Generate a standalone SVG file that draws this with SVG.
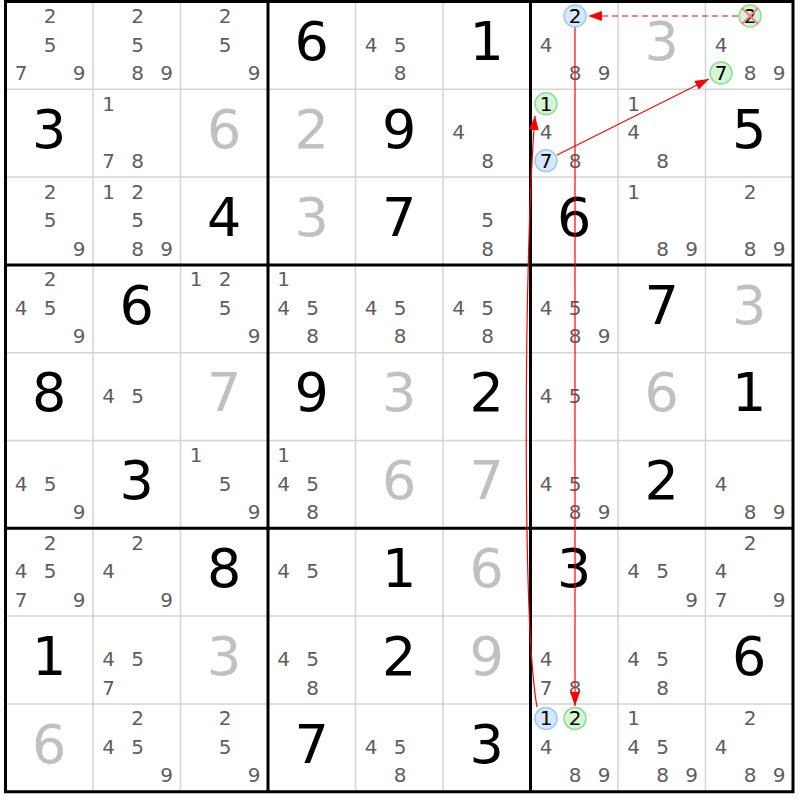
<svg xmlns="http://www.w3.org/2000/svg" width="800" height="800" viewBox="0 0 800 800">
<style>
.c{font-family:"DejaVu Sans","Liberation Sans",sans-serif;font-size:20px;fill:#5e5e5e;text-anchor:middle}
.k{fill:#000}
.b{font-family:"DejaVu Sans","Liberation Sans",sans-serif;font-size:54px;fill:#000;text-anchor:middle}
.g{fill:#c0c0c0}
.thin{stroke:#d4d4d4;stroke-width:1.5}
.thick{stroke:#000;stroke-width:3}
.cb{fill:#d6e8fb;stroke:#9ccaf2;stroke-width:1.5}
.cg{fill:#d6f5d6;stroke:#8edc8e;stroke-width:1.5}
.ln{fill:none;stroke:#f00;stroke-width:1.2}
</style>
<defs>
<marker id="ah" viewBox="0 0 14 10" refX="14" refY="5" markerWidth="14" markerHeight="10" markerUnits="userSpaceOnUse" orient="auto"><path d="M0,0 L14,5 L0,10 z" fill="#f00"/></marker>
</defs>
<rect x="0" y="0" width="800" height="800" fill="#fff"/>
<g id="grid">
<path class="thin" d="M93,1.5V791.7M180.5,1.5V791.7M355.5,1.5V791.7M443,1.5V791.7M618,1.5V791.7M705.5,1.5V791.7M5.5,89.3H793M5.5,177.1H793M5.5,352.7H793M5.5,440.5H793M5.5,616.1H793M5.5,703.9H793"/>
<path class="thick" d="M5.5,0V793M268,1.5V791.7M530.5,1.5V791.7M793,0V793M4,1.5H794.5M5.5,264.9H793M5.5,528.3H793M4,791.7H794.5"/>
</g>
<g id="r1c1"><text class="c" x="50" y="23">2</text><text class="c" x="50" y="51.5">5</text><text class="c" x="21" y="80">7</text><text class="c" x="79" y="80">9</text></g>
<g id="r1c2"><text class="c" x="137.5" y="23">2</text><text class="c" x="137.5" y="51.5">5</text><text class="c" x="137.5" y="80">8</text><text class="c" x="166.5" y="80">9</text></g>
<g id="r1c3"><text class="c" x="225" y="23">2</text><text class="c" x="225" y="51.5">5</text><text class="c" x="254" y="80">9</text></g>
<g id="r1c4"><text class="b" x="311.75" y="60.2">6</text></g>
<g id="r1c5"><text class="c" x="371" y="51.5">4</text><text class="c" x="400" y="51.5">5</text><text class="c" x="400" y="80">8</text></g>
<g id="r1c6"><text class="b" x="486.75" y="60.2">1</text></g>
<g id="r1c7"><circle class="cb" cx="575" cy="16" r="11"/><text class="c k" x="575" y="23">2</text><text class="c" x="546" y="51.5">4</text><text class="c" x="575" y="80">8</text><text class="c" x="604" y="80">9</text></g>
<g id="r1c8"><text class="b g" x="661.75" y="60.2">3</text></g>
<g id="r1c9"><circle class="cg" cx="750" cy="16" r="11"/><text class="c k" x="750" y="23">2</text><path d="M742,8 L758,24 M758,8 L742,24" stroke="#ff7a7a" stroke-width="2"/><text class="c" x="721" y="51.5">4</text><circle class="cg" cx="721" cy="73" r="11"/><text class="c k" x="721" y="80">7</text><text class="c" x="750" y="80">8</text><text class="c" x="779" y="80">9</text></g>
<g id="r2c1"><text class="b" x="49.25" y="148">3</text></g>
<g id="r2c2"><text class="c" x="108.5" y="110.8">1</text><text class="c" x="108.5" y="167.8">7</text><text class="c" x="137.5" y="167.8">8</text></g>
<g id="r2c3"><text class="b g" x="224.25" y="148">6</text></g>
<g id="r2c4"><text class="b g" x="311.75" y="148">2</text></g>
<g id="r2c5"><text class="b" x="399.25" y="148">9</text></g>
<g id="r2c6"><text class="c" x="458.5" y="139.3">4</text><text class="c" x="487.5" y="167.8">8</text></g>
<g id="r2c7"><circle class="cg" cx="546" cy="103.8" r="11"/><text class="c k" x="546" y="110.8">1</text><text class="c" x="546" y="139.3">4</text><circle class="cb" cx="546" cy="160.8" r="11"/><text class="c k" x="546" y="167.8">7</text><text class="c" x="575" y="167.8">8</text></g>
<g id="r2c8"><text class="c" x="633.5" y="110.8">1</text><text class="c" x="633.5" y="139.3">4</text><text class="c" x="662.5" y="167.8">8</text></g>
<g id="r2c9"><text class="b" x="749.25" y="148">5</text></g>
<g id="r3c1"><text class="c" x="50" y="198.6">2</text><text class="c" x="50" y="227.1">5</text><text class="c" x="79" y="255.6">9</text></g>
<g id="r3c2"><text class="c" x="108.5" y="198.6">1</text><text class="c" x="137.5" y="198.6">2</text><text class="c" x="137.5" y="227.1">5</text><text class="c" x="137.5" y="255.6">8</text><text class="c" x="166.5" y="255.6">9</text></g>
<g id="r3c3"><text class="b" x="224.25" y="235.8">4</text></g>
<g id="r3c4"><text class="b g" x="311.75" y="235.8">3</text></g>
<g id="r3c5"><text class="b" x="399.25" y="235.8">7</text></g>
<g id="r3c6"><text class="c" x="487.5" y="227.1">5</text><text class="c" x="487.5" y="255.6">8</text></g>
<g id="r3c7"><text class="b" x="574.25" y="235.8">6</text></g>
<g id="r3c8"><text class="c" x="633.5" y="198.6">1</text><text class="c" x="662.5" y="255.6">8</text><text class="c" x="691.5" y="255.6">9</text></g>
<g id="r3c9"><text class="c" x="750" y="198.6">2</text><text class="c" x="750" y="255.6">8</text><text class="c" x="779" y="255.6">9</text></g>
<g id="r4c1"><text class="c" x="50" y="286.4">2</text><text class="c" x="21" y="314.9">4</text><text class="c" x="50" y="314.9">5</text><text class="c" x="79" y="343.4">9</text></g>
<g id="r4c2"><text class="b" x="136.75" y="323.6">6</text></g>
<g id="r4c3"><text class="c" x="196" y="286.4">1</text><text class="c" x="225" y="286.4">2</text><text class="c" x="225" y="314.9">5</text><text class="c" x="254" y="343.4">9</text></g>
<g id="r4c4"><text class="c" x="283.5" y="286.4">1</text><text class="c" x="283.5" y="314.9">4</text><text class="c" x="312.5" y="314.9">5</text><text class="c" x="312.5" y="343.4">8</text></g>
<g id="r4c5"><text class="c" x="371" y="314.9">4</text><text class="c" x="400" y="314.9">5</text><text class="c" x="400" y="343.4">8</text></g>
<g id="r4c6"><text class="c" x="458.5" y="314.9">4</text><text class="c" x="487.5" y="314.9">5</text><text class="c" x="487.5" y="343.4">8</text></g>
<g id="r4c7"><text class="c" x="546" y="314.9">4</text><text class="c" x="575" y="314.9">5</text><text class="c" x="575" y="343.4">8</text><text class="c" x="604" y="343.4">9</text></g>
<g id="r4c8"><text class="b" x="661.75" y="323.6">7</text></g>
<g id="r4c9"><text class="b g" x="749.25" y="323.6">3</text></g>
<g id="r5c1"><text class="b" x="49.25" y="411.4">8</text></g>
<g id="r5c2"><text class="c" x="108.5" y="402.7">4</text><text class="c" x="137.5" y="402.7">5</text></g>
<g id="r5c3"><text class="b g" x="224.25" y="411.4">7</text></g>
<g id="r5c4"><text class="b" x="311.75" y="411.4">9</text></g>
<g id="r5c5"><text class="b g" x="399.25" y="411.4">3</text></g>
<g id="r5c6"><text class="b" x="486.75" y="411.4">2</text></g>
<g id="r5c7"><text class="c" x="546" y="402.7">4</text><text class="c" x="575" y="402.7">5</text></g>
<g id="r5c8"><text class="b g" x="661.75" y="411.4">6</text></g>
<g id="r5c9"><text class="b" x="749.25" y="411.4">1</text></g>
<g id="r6c1"><text class="c" x="21" y="490.5">4</text><text class="c" x="50" y="490.5">5</text><text class="c" x="79" y="519">9</text></g>
<g id="r6c2"><text class="b" x="136.75" y="499.2">3</text></g>
<g id="r6c3"><text class="c" x="196" y="462">1</text><text class="c" x="225" y="490.5">5</text><text class="c" x="254" y="519">9</text></g>
<g id="r6c4"><text class="c" x="283.5" y="462">1</text><text class="c" x="283.5" y="490.5">4</text><text class="c" x="312.5" y="490.5">5</text><text class="c" x="312.5" y="519">8</text></g>
<g id="r6c5"><text class="b g" x="399.25" y="499.2">6</text></g>
<g id="r6c6"><text class="b g" x="486.75" y="499.2">7</text></g>
<g id="r6c7"><text class="c" x="546" y="490.5">4</text><text class="c" x="575" y="490.5">5</text><text class="c" x="575" y="519">8</text><text class="c" x="604" y="519">9</text></g>
<g id="r6c8"><text class="b" x="661.75" y="499.2">2</text></g>
<g id="r6c9"><text class="c" x="721" y="490.5">4</text><text class="c" x="750" y="519">8</text><text class="c" x="779" y="519">9</text></g>
<g id="r7c1"><text class="c" x="50" y="549.8">2</text><text class="c" x="21" y="578.3">4</text><text class="c" x="50" y="578.3">5</text><text class="c" x="21" y="606.8">7</text><text class="c" x="79" y="606.8">9</text></g>
<g id="r7c2"><text class="c" x="137.5" y="549.8">2</text><text class="c" x="108.5" y="578.3">4</text><text class="c" x="166.5" y="606.8">9</text></g>
<g id="r7c3"><text class="b" x="224.25" y="587">8</text></g>
<g id="r7c4"><text class="c" x="283.5" y="578.3">4</text><text class="c" x="312.5" y="578.3">5</text></g>
<g id="r7c5"><text class="b" x="399.25" y="587">1</text></g>
<g id="r7c6"><text class="b g" x="486.75" y="587">6</text></g>
<g id="r7c7"><text class="b" x="574.25" y="587">3</text></g>
<g id="r7c8"><text class="c" x="633.5" y="578.3">4</text><text class="c" x="662.5" y="578.3">5</text><text class="c" x="691.5" y="606.8">9</text></g>
<g id="r7c9"><text class="c" x="750" y="549.8">2</text><text class="c" x="721" y="578.3">4</text><text class="c" x="721" y="606.8">7</text><text class="c" x="779" y="606.8">9</text></g>
<g id="r8c1"><text class="b" x="49.25" y="674.8">1</text></g>
<g id="r8c2"><text class="c" x="108.5" y="666.1">4</text><text class="c" x="137.5" y="666.1">5</text><text class="c" x="108.5" y="694.6">7</text></g>
<g id="r8c3"><text class="b g" x="224.25" y="674.8">3</text></g>
<g id="r8c4"><text class="c" x="283.5" y="666.1">4</text><text class="c" x="312.5" y="666.1">5</text><text class="c" x="312.5" y="694.6">8</text></g>
<g id="r8c5"><text class="b" x="399.25" y="674.8">2</text></g>
<g id="r8c6"><text class="b g" x="486.75" y="674.8">9</text></g>
<g id="r8c7"><text class="c" x="546" y="666.1">4</text><text class="c" x="546" y="694.6">7</text><text class="c" x="575" y="694.6">8</text></g>
<g id="r8c8"><text class="c" x="633.5" y="666.1">4</text><text class="c" x="662.5" y="666.1">5</text><text class="c" x="662.5" y="694.6">8</text></g>
<g id="r8c9"><text class="b" x="749.25" y="674.8">6</text></g>
<g id="r9c1"><text class="b g" x="49.25" y="762.6">6</text></g>
<g id="r9c2"><text class="c" x="137.5" y="725.4">2</text><text class="c" x="108.5" y="753.9">4</text><text class="c" x="137.5" y="753.9">5</text><text class="c" x="166.5" y="782.4">9</text></g>
<g id="r9c3"><text class="c" x="225" y="725.4">2</text><text class="c" x="225" y="753.9">5</text><text class="c" x="254" y="782.4">9</text></g>
<g id="r9c4"><text class="b" x="311.75" y="762.6">7</text></g>
<g id="r9c5"><text class="c" x="371" y="753.9">4</text><text class="c" x="400" y="753.9">5</text><text class="c" x="400" y="782.4">8</text></g>
<g id="r9c6"><text class="b" x="486.75" y="762.6">3</text></g>
<g id="r9c7"><circle class="cb" cx="546" cy="718.4" r="11"/><text class="c k" x="546" y="725.4">1</text><circle class="cg" cx="575" cy="718.4" r="11"/><text class="c k" x="575" y="725.4">2</text><text class="c" x="546" y="753.9">4</text><text class="c" x="575" y="782.4">8</text><text class="c" x="604" y="782.4">9</text></g>
<g id="r9c8"><text class="c" x="633.5" y="725.4">1</text><text class="c" x="633.5" y="753.9">4</text><text class="c" x="662.5" y="753.9">5</text><text class="c" x="662.5" y="782.4">8</text><text class="c" x="691.5" y="782.4">9</text></g>
<g id="r9c9"><text class="c" x="750" y="725.4">2</text><text class="c" x="721" y="753.9">4</text><text class="c" x="750" y="782.4">8</text><text class="c" x="779" y="782.4">9</text></g>
<g id="connectors">
<path class="ln" d="M738,16 L588,16" stroke-dasharray="6,4" stroke-width="1.5" marker-end="url(#ah)"/>
<path class="ln" d="M575,27.5 L575,706" stroke="#ff5050" stroke-width="1.5" marker-end="url(#ah)"/>
<path class="ln" d="M557,155 L709,79" marker-end="url(#ah)"/>
<path class="ln" d="M537,707 C522,620 524,250 535,116" stroke-width="1.5" marker-end="url(#ah)"/>
</g>
</svg>
